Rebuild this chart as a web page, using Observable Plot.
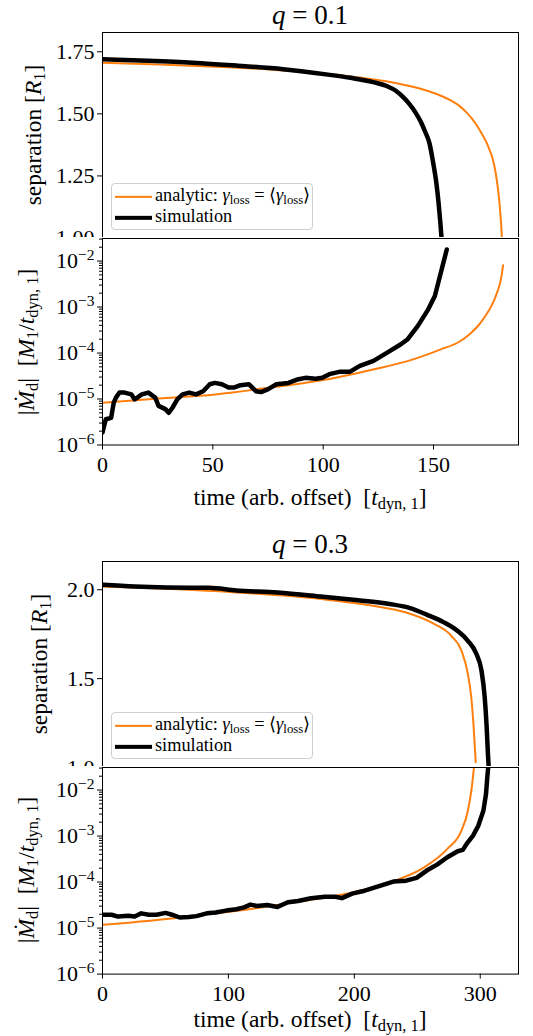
<!DOCTYPE html>
<html><head><meta charset="utf-8">
<script src="https://cdn.jsdelivr.net/npm/d3@7"></script>
<script src="https://cdn.jsdelivr.net/npm/@observablehq/plot@0.6"></script>
<style>
html,body{margin:0;padding:0;background:#fff;}
#fig{position:relative;width:533px;height:1036px;overflow:hidden;font-family:'Liberation Serif';color:#000;background:#fff;}
#fig svg{position:absolute;left:0;overflow:visible;}
.lbl{position:absolute;white-space:nowrap;line-height:1;font-size:23.5px;transform:translate(-50%,-50%);}
.rot{transform:translate(-50%,-50%) rotate(-90deg);}
.ttl{font-size:27px;}
sub{font-size:70%;vertical-align:-0.25em;line-height:0;}
.legend{position:absolute;border:1px solid #d0d0d0;border-radius:4px;background:rgba(255,255,255,0.8);font-size:18.3px;line-height:1;}
.row{position:absolute;left:3px;white-space:nowrap;transform:translateY(-50%);}
.sw{display:inline-block;width:37px;vertical-align:middle;margin-right:3px;}
</style></head>
<body><div id="fig"></div>
<script>
// ---------- data ----------
// q = 0.1 : separation [R1]
const q01SepSimT = [0, 20.4, 40.9, 61.3, 81.8, 102.2, 112.4, 122.6, 128.8, 132.9, 135.9, 139, 141.5, 144.1, 146.1, 148.2, 149.7, 151.3, 152.3, 153.1, 153.8];
const q01SepSimV = [1.720, 1.714, 1.706, 1.694, 1.680, 1.658, 1.645, 1.628, 1.612, 1.593, 1.570, 1.540, 1.510, 1.470, 1.430, 1.380, 1.310, 1.220, 1.140, 1.060, 0.980];
const q01SepAnaT = [0, 25.6, 51.1, 76.7, 102.2, 117.5, 127.8, 138, 148.2, 153.6, 158, 162, 165, 167.5, 170, 172, 174, 175.5, 176.7, 178, 179.1, 180, 180.6, 181.1];
const q01SepAnaV = [1.706, 1.699, 1.690, 1.678, 1.660, 1.645, 1.632, 1.614, 1.590, 1.572, 1.553, 1.530, 1.505, 1.480, 1.448, 1.418, 1.385, 1.352, 1.322, 1.270, 1.205, 1.130, 1.060, 0.980];
// q = 0.1 : |Mdot_d| (log10 of M1/t_dyn,1)
const q01MdotSimT = [0, 1.5, 3.9, 5.1, 6.1, 7.7, 10, 13.1, 14.6, 17.8, 20.8, 23.9, 25.4, 28.5, 30, 31.7, 33.9, 36.3, 39.3, 42.4, 45.6, 48.6, 50.9, 54.1, 57.1, 59.5, 62.5, 66.4, 69.5, 71.8, 74.9, 78.8, 84.2, 88.8, 92, 96.6, 99.6, 102.8, 107.3, 112, 116.6, 122.8, 129, 135.2, 138.3, 142.9, 147.6, 150.6, 153.7, 156];
const q01MdotSimLog = [-5.73, -5.44, -5.41, -5.08, -4.97, -4.86, -4.86, -4.90, -5.01, -4.90, -4.86, -4.97, -5.15, -5.22, -5.30, -5.19, -5.01, -4.90, -4.86, -4.90, -4.83, -4.68, -4.65, -4.68, -4.75, -4.75, -4.70, -4.68, -4.83, -4.85, -4.79, -4.68, -4.65, -4.57, -4.54, -4.56, -4.54, -4.46, -4.41, -4.41, -4.28, -4.17, -3.99, -3.81, -3.70, -3.41, -3.05, -2.76, -2.18, -1.75];
const q01MdotAnaT = [0, 25.6, 51.1, 77.7, 102.2, 122.6, 140, 153.3, 161.5, 166.6, 170.7, 173.7, 176.3, 178.3, 179.9, 180.9, 181.5];
const q01MdotAnaLog = [-5.08, -4.99, -4.90, -4.74, -4.57, -4.36, -4.15, -3.92, -3.76, -3.58, -3.38, -3.18, -2.97, -2.75, -2.52, -2.30, -2.09];
// q = 0.3 : separation [R1]
const q03SepSimT = [0, 25.6, 51.1, 84.8, 106.3, 139, 173.7, 201.3, 227.9, 244.3, 257.5, 270.8, 282.1, 290.2, 296.9, 301, 303.5, 305.1, 306.1, 306.9];
const q03SepSimV = [2.028, 2.018, 2.013, 2.011, 1.996, 1.985, 1.962, 1.942, 1.920, 1.897, 1.860, 1.818, 1.768, 1.713, 1.640, 1.545, 1.400, 1.230, 1.080, 0.980];
const q03SepAnaT = [0, 51.1, 106.3, 173.7, 214.6, 241.2, 263.7, 277, 285.1, 290.2, 292.9, 294.8, 296.4];
const q03SepAnaV = [2.019, 2.005, 1.985, 1.948, 1.910, 1.872, 1.807, 1.741, 1.657, 1.526, 1.394, 1.225, 1.030];
// q = 0.3 : |Mdot_d|
const q03MdotSimT = [0, 7.2, 12.3, 20.4, 25.6, 30.7, 36.8, 42.9, 50.1, 55.2, 61.3, 68.5, 74.6, 82.8, 89.9, 98.1, 106.3, 112.4, 117.5, 122.6, 130.8, 139, 147.2, 155.3, 165.6, 176.8, 185, 190.1, 198.3, 206.4, 214.6, 222.8, 231, 241.2, 249.4, 257.5, 265.7, 273.9, 282.1, 286.2, 289.2, 294.3, 298.4, 302.5, 304.6, 305.6, 306.6];
const q03MdotSimLog = [-4.71, -4.71, -4.75, -4.73, -4.75, -4.68, -4.71, -4.71, -4.67, -4.71, -4.77, -4.76, -4.74, -4.68, -4.66, -4.62, -4.59, -4.55, -4.49, -4.52, -4.50, -4.54, -4.44, -4.41, -4.35, -4.32, -4.32, -4.35, -4.25, -4.20, -4.13, -4.06, -3.99, -3.97, -3.91, -3.75, -3.62, -3.46, -3.33, -3.30, -3.17, -2.99, -2.78, -2.45, -2.09, -1.73, -1.43];
const q03MdotAnaT = [0, 51.1, 102.2, 153.3, 204.4, 227.9, 255.5, 273.9, 285.1, 290.2, 293.3, 295.4];
const q03MdotAnaLog = [-4.93, -4.80, -4.64, -4.44, -4.19, -4.01, -3.68, -3.28, -2.88, -2.45, -1.94, -1.40];

// tick values
const q01SepTicks = [1.00, 1.25, 1.50, 1.75];
const q03SepTicks = [1.0, 1.5, 2.0];
const mdotTickExps = [-6, -5, -4, -3, -2];
const q01TimeTicks = [0, 50, 100, 150];
const q03TimeTicks = [0, 100, 200, 300];

// ---------- helpers ----------
const ORANGE = "#ff7f0e";
const FONT = "Liberation Serif";
const W = 533, ML = 102, MR = 15, FS = 22;
const fig = document.getElementById("fig");
const pts = (T, V, f = v => v) => T.map((t, i) => ({t, v: f(V[i])}));
const pow10 = e => Math.pow(10, e);

function place(svg, top) { svg.style.top = top + "px"; fig.appendChild(svg); }

function sepPanel({frameTop, frameBottom, xmax, ymax, ticks, fmt, sim, ana}) {
  const mt = 4;
  const svg = Plot.plot({
    width: W, height: (frameBottom - frameTop) + mt, marginLeft: ML, marginRight: MR, marginTop: mt, marginBottom: 0,
    style: {fontFamily: FONT, fontSize: FS + "px", background: "transparent", color: "black"},
    x: {domain: [0, xmax], axis: null},
    y: {domain: [1, ymax]},
    marks: [
      Plot.axisY({ticks, tickFormat: fmt, tickSize: 5, tickPadding: 3, fontSize: FS, label: null}),
      Plot.line(ana, {x: "t", y: "v", stroke: ORANGE, strokeWidth: 2, curve: "monotone-x", clip: true}),
      Plot.line(sim, {x: "t", y: "v", stroke: "black", strokeWidth: 4.5, curve: "monotone-x", clip: true, strokeLinejoin: "round"}),
      Plot.frame({stroke: "black", strokeWidth: 1})
    ]
  });
  place(svg, frameTop - mt);
}

function mdotPanel({frameTop, frameBottom, xmax, xticks, sim, ana}) {
  const mt = 1, mb = 60;
  const minors = [];
  for (let e = -6; e <= -2; e++) for (let k = 2; k <= 9; k++) { const v = k * pow10(e); if (v < pow10(-1.51)) minors.push(v); }
  const svg = Plot.plot({
    width: W, height: (frameBottom - frameTop) + mt + mb, marginLeft: ML, marginRight: MR, marginTop: mt, marginBottom: mb,
    style: {fontFamily: FONT, fontSize: FS + "px", background: "white", color: "black"},
    x: {domain: [0, xmax]},
    y: {type: "log", domain: [1e-6, pow10(-1.51)]},
    marks: [
      Plot.axisY({ticks: minors, tickSize: 3, tickFormat: () => "", label: null}),
      Plot.axisY({ticks: mdotTickExps.map(pow10), tickSize: 5, tickPadding: 3, fontSize: FS, label: null,
        tickFormat: d => "10^" + Math.round(Math.log10(d))}),
      Plot.axisX({ticks: xticks, tickSize: 5, tickPadding: 6, fontSize: FS, label: null, tickFormat: d3.format("d")}),
      Plot.line(ana, {x: "t", y: "v", stroke: ORANGE, strokeWidth: 2, curve: "monotone-x", clip: true}),
      Plot.line(sim, {x: "t", y: "v", stroke: "black", strokeWidth: 4.5, clip: true, strokeLinejoin: "round"}),
      Plot.frame({stroke: "black", strokeWidth: 1})
    ]
  });
  // superscript exponents for log tick labels
  svg.querySelectorAll("text").forEach(t => {
    const m = /^10\^(-?\d+)$/.exec(t.textContent);
    if (!m) return;
    t.textContent = "";
    const a = document.createElementNS("http://www.w3.org/2000/svg", "tspan");
    a.textContent = "10";
    const b = document.createElementNS("http://www.w3.org/2000/svg", "tspan");
    b.textContent = m[1].replace("-", "\u2212");
    b.setAttribute("dy", "-0.5em");
    b.setAttribute("font-size", "15.5");
    t.appendChild(a); t.appendChild(b);
  });
  place(svg, frameTop - mt);
}

function label(html, x, y, cls) {
  const d = document.createElement("div");
  d.className = "lbl " + (cls || "");
  d.style.left = x + "px"; d.style.top = y + "px";
  d.innerHTML = html;
  fig.appendChild(d);
}

function legend(left, top) {
  const d = document.createElement("div");
  d.className = "legend";
  d.style.left = left + "px"; d.style.top = top + "px";
  d.style.width = "200px"; d.style.height = "45px";
  d.innerHTML =
    `<div class="row" style="top:11px"><span class="sw" style="border-top:2px solid ${ORANGE}"></span>analytic: <i>γ</i><sub>loss</sub> = ⟨<i>γ</i><sub>loss</sub>⟩</div>` +
    `<div class="row" style="top:32px"><span class="sw" style="border-top:4.5px solid #000"></span>simulation</div>`;
  fig.appendChild(d);
}

// ---------- q = 0.1 ----------
sepPanel({frameTop: 32, frameBottom: 237.5, xmax: 188.5, ymax: 1.8276, ticks: q01SepTicks, fmt: d3.format(".2f"),
  sim: pts(q01SepSimT, q01SepSimV), ana: pts(q01SepAnaT, q01SepAnaV)});
mdotPanel({frameTop: 237.5, frameBottom: 444, xmax: 188.5, xticks: q01TimeTicks,
  sim: pts(q01MdotSimT, q01MdotSimLog, pow10), ana: pts(q01MdotAnaT, q01MdotAnaLog, pow10)});
label('<i>q</i> = 0.1', 310, 15, "ttl");
label('separation [<i>R</i><sub>1</sub>]', 34, 135, "rot");
label('|<i>Ṁ</i><sub>d</sub>|&nbsp; [<i>M</i><sub>1</sub>/<i>t</i><sub>dyn, 1</sub>]', 27, 342, "rot");
label('time (arb. offset)&nbsp; [<i>t</i><sub>dyn, 1</sub>]', 310, 498);
legend(111, 183);

// ---------- q = 0.3 ----------
sepPanel({frameTop: 560.7, frameBottom: 766.7, xmax: 330.4, ymax: 2.159, ticks: q03SepTicks, fmt: d3.format(".1f"),
  sim: pts(q03SepSimT, q03SepSimV), ana: pts(q03SepAnaT, q03SepAnaV)});
mdotPanel({frameTop: 766.7, frameBottom: 973.3, xmax: 330.4, xticks: q03TimeTicks,
  sim: pts(q03MdotSimT, q03MdotSimLog, pow10), ana: pts(q03MdotAnaT, q03MdotAnaLog, pow10)});
label('<i>q</i> = 0.3', 310, 544, "ttl");
label('separation [<i>R</i><sub>1</sub>]', 40, 664, "rot");
label('|<i>Ṁ</i><sub>d</sub>|&nbsp; [<i>M</i><sub>1</sub>/<i>t</i><sub>dyn, 1</sub>]', 27, 870, "rot");
label('time (arb. offset)&nbsp; [<i>t</i><sub>dyn, 1</sub>]', 310, 1019.5);
legend(111, 712);
</script>
</body></html>
